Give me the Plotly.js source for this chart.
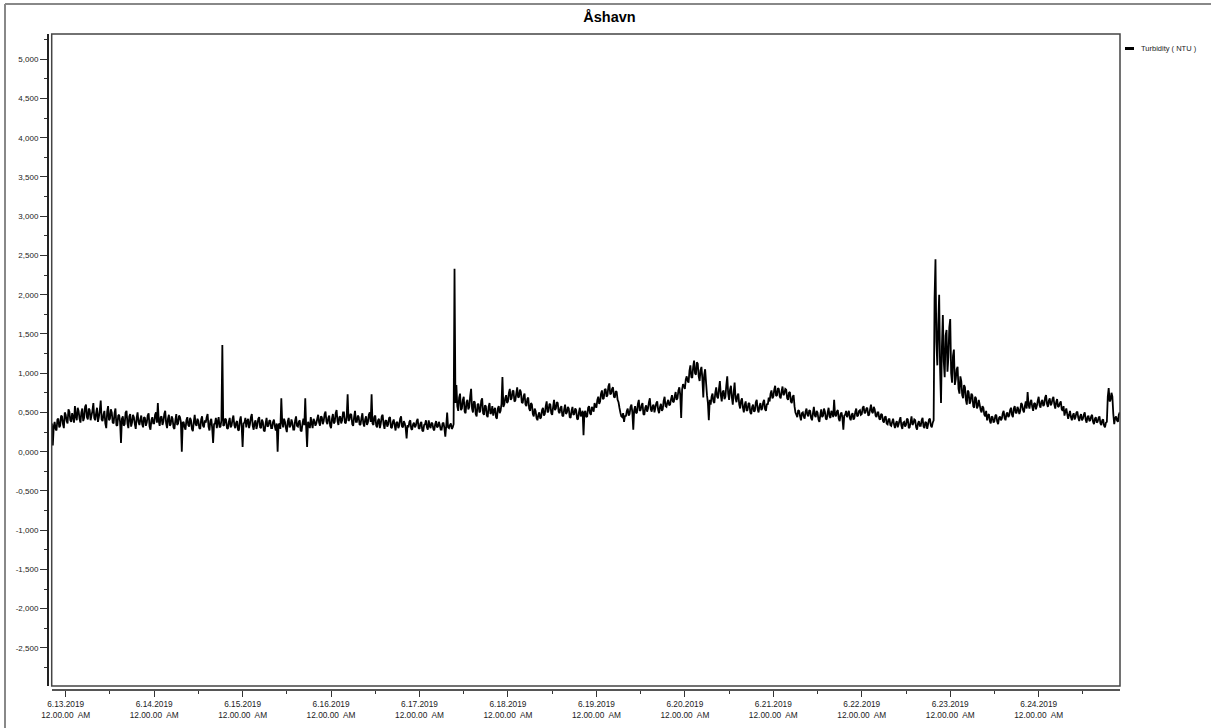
<!DOCTYPE html>
<html>
<head>
<meta charset="utf-8">
<script src="https://cdn.plot.ly/plotly-3.0.1.min.js"></script>
<style>html,body{margin:0;padding:0;background:#fff;}#chart{width:1211px;height:728px;}</style>
</head>
<body>
<div id="chart"></div>
<script>
// ---- data ----
const chartTitle = 'Åshavn';
const seriesName = 'Turbidity ( NTU )';
const seriesStart = '2019-06-12 20:00';   // first sample
const sampleStepMs = 15 * 60 * 1000;       // 15-minute samples
// turbidity values, one row = 12 hours (48 samples)
const turbidity = [
  0.30,0.36,0.08,0.32,0.38,0.29,0.27,0.41,0.42,0.31,0.33,0.46,0.45,0.35,0.30,0.50,0.47,0.39,0.36,0.54,0.51,0.40,0.38,0.49,
  0.44,0.37,0.58,0.45,0.40,0.56,0.52,0.42,0.37,0.50,0.55,0.39,0.43,0.57,0.60,0.44,0.41,0.55,0.53,0.40,0.46,0.52,0.62,0.43,
  0.40,0.49,0.56,0.38,0.44,0.53,0.65,0.41,0.39,0.47,0.52,0.36,0.30,0.51,0.58,0.40,0.42,0.54,0.50,0.37,0.36,0.49,0.55,0.34,
  0.33,0.46,0.47,0.38,0.11,0.42,0.45,0.33,0.35,0.50,0.52,0.36,0.30,0.45,0.48,0.32,0.37,0.47,0.44,0.35,0.29,0.43,0.50,0.38,
  0.34,0.41,0.46,0.35,0.31,0.44,0.43,0.33,0.37,0.46,0.49,0.32,0.28,0.40,0.44,0.36,0.36,0.47,0.50,0.37,0.62,0.39,0.33,0.44,
  0.45,0.34,0.38,0.48,0.52,0.36,0.30,0.42,0.47,0.33,0.35,0.45,0.42,0.31,0.29,0.40,0.48,0.34,0.36,0.46,0.44,0.38,0.00,0.37,
  0.38,0.31,0.28,0.40,0.44,0.34,0.32,0.43,0.40,0.29,0.26,0.38,0.47,0.35,0.33,0.42,0.39,0.30,0.29,0.41,0.45,0.33,0.31,0.40,
  0.37,0.44,0.48,0.32,0.27,0.39,0.42,0.30,0.11,0.35,0.36,0.43,0.30,0.38,0.44,0.31,0.32,0.40,1.36,0.33,0.34,0.42,0.41,0.30,
  0.29,0.38,0.43,0.31,0.33,0.41,0.46,0.34,0.30,0.37,0.39,0.28,0.27,0.40,0.45,0.32,0.06,0.36,0.37,0.43,0.31,0.39,0.42,0.30,
  0.35,0.44,0.48,0.33,0.28,0.37,0.40,0.29,0.34,0.42,0.44,0.31,0.30,0.41,0.38,0.27,0.26,0.36,0.43,0.32,0.33,0.40,0.39,0.30,
  0.30,0.38,0.41,0.32,0.27,0.36,0.00,0.34,0.36,0.29,0.68,0.37,0.31,0.42,0.38,0.30,0.25,0.39,0.43,0.31,0.33,0.41,0.37,0.28,
  0.28,0.40,0.45,0.33,0.32,0.38,0.40,0.27,0.26,0.36,0.42,0.34,0.68,0.31,0.06,0.38,0.35,0.30,0.44,0.36,0.30,0.42,0.39,0.33,
  0.36,0.42,0.47,0.37,0.33,0.45,0.44,0.35,0.39,0.48,0.51,0.38,0.35,0.43,0.46,0.33,0.30,0.42,0.48,0.36,0.38,0.49,0.53,0.39,
  0.34,0.44,0.45,0.36,0.40,0.50,0.50,0.37,0.36,0.45,0.73,0.39,0.41,0.48,0.47,0.35,0.33,0.44,0.52,0.38,0.38,0.46,0.44,0.34,
  0.35,0.43,0.49,0.36,0.32,0.41,0.45,0.34,0.37,0.47,0.50,0.38,0.73,0.36,0.34,0.44,0.46,0.33,0.31,0.40,0.42,0.30,0.36,0.45,
  0.47,0.35,0.29,0.39,0.40,0.32,0.35,0.43,0.44,0.31,0.30,0.38,0.41,0.34,0.27,0.37,0.38,0.30,0.33,0.42,0.45,0.32,0.31,0.39,
  0.36,0.30,0.17,0.34,0.31,0.38,0.40,0.29,0.28,0.35,0.37,0.31,0.33,0.39,0.42,0.30,0.29,0.36,0.38,0.27,0.26,0.34,0.35,0.40,
  0.31,0.28,0.40,0.33,0.30,0.37,0.36,0.29,0.27,0.35,0.39,0.31,0.32,0.38,0.34,0.28,0.28,0.36,0.37,0.30,0.19,0.33,0.50,0.31,
  0.30,0.34,0.36,0.29,0.31,0.35,2.33,0.62,0.85,0.58,0.52,0.69,0.74,0.53,0.55,0.66,0.70,0.51,0.49,0.63,0.66,0.54,0.57,0.71,
  0.80,0.55,0.50,0.64,0.63,0.48,0.45,0.60,0.61,0.50,0.52,0.65,0.68,0.49,0.47,0.59,0.58,0.46,0.44,0.57,0.62,0.48,0.50,0.58,
  0.46,0.53,0.56,0.44,0.42,0.55,0.58,0.49,0.52,0.61,0.95,0.57,0.60,0.68,0.72,0.62,0.64,0.75,0.80,0.66,0.68,0.77,0.78,0.64,
  0.65,0.74,0.82,0.69,0.70,0.79,0.76,0.63,0.62,0.71,0.74,0.60,0.58,0.67,0.69,0.55,0.52,0.62,0.60,0.48,0.45,0.55,0.52,0.43,
  0.40,0.47,0.50,0.42,0.44,0.53,0.56,0.46,0.48,0.58,0.64,0.50,0.52,0.61,0.60,0.49,0.47,0.57,0.66,0.53,0.55,0.63,0.62,0.51,
  0.49,0.56,0.58,0.46,0.45,0.54,0.60,0.48,0.50,0.57,0.55,0.44,0.43,0.52,0.57,0.47,0.48,0.55,0.53,0.42,0.41,0.50,0.56,0.45,
  0.48,0.52,0.21,0.50,0.52,0.44,0.45,0.56,0.58,0.49,0.47,0.57,0.55,0.51,0.62,0.58,0.56,0.66,0.70,0.61,0.64,0.74,0.78,0.67,
  0.68,0.79,0.80,0.70,0.72,0.83,0.87,0.73,0.74,0.80,0.82,0.70,0.69,0.77,0.76,0.66,0.63,0.56,0.50,0.45,0.44,0.49,0.38,0.46,
  0.45,0.52,0.55,0.46,0.48,0.57,0.60,0.50,0.28,0.53,0.58,0.49,0.50,0.61,0.66,0.52,0.53,0.59,0.62,0.48,0.47,0.56,0.59,0.51,
  0.55,0.63,0.68,0.54,0.51,0.58,0.60,0.50,0.56,0.62,0.64,0.53,0.49,0.57,0.61,0.52,0.54,0.65,0.70,0.58,0.57,0.63,0.66,0.59,
  0.60,0.67,0.72,0.64,0.63,0.71,0.76,0.66,0.68,0.78,0.82,0.72,0.43,0.79,0.86,0.84,0.80,0.92,0.96,0.90,0.88,1.03,1.10,0.95,
  0.94,1.08,1.16,1.00,0.98,1.14,1.12,0.96,0.90,1.04,1.08,0.93,0.69,0.98,1.05,0.88,0.72,0.62,0.40,0.66,0.60,0.70,0.74,0.64,
  0.62,0.75,0.82,0.70,0.68,0.80,0.90,0.72,0.64,0.76,0.78,0.67,0.70,0.85,0.96,0.74,0.66,0.79,0.84,0.69,0.60,0.76,0.88,0.68,
  0.63,0.71,0.74,0.60,0.55,0.65,0.68,0.56,0.50,0.60,0.64,0.52,0.53,0.61,0.62,0.50,0.48,0.57,0.60,0.51,0.52,0.63,0.66,0.54,
  0.50,0.58,0.62,0.53,0.55,0.63,0.66,0.54,0.52,0.61,0.60,0.69,0.64,0.74,0.78,0.68,0.70,0.79,0.84,0.71,0.72,0.81,0.80,0.70,
  0.68,0.77,0.83,0.72,0.74,0.80,0.79,0.68,0.66,0.75,0.76,0.64,0.62,0.70,0.72,0.58,0.50,0.47,0.44,0.53,0.52,0.45,0.40,0.49,
  0.50,0.45,0.42,0.51,0.55,0.47,0.45,0.53,0.52,0.43,0.40,0.49,0.57,0.46,0.44,0.52,0.50,0.41,0.38,0.47,0.54,0.44,0.46,0.55,
  0.51,0.42,0.41,0.50,0.56,0.45,0.43,0.52,0.49,0.44,0.66,0.47,0.45,0.51,0.53,0.42,0.39,0.48,0.50,0.43,0.28,0.46,0.47,0.52,
  0.44,0.48,0.52,0.43,0.40,0.47,0.49,0.41,0.43,0.51,0.55,0.45,0.46,0.52,0.53,0.47,0.48,0.56,0.58,0.49,0.50,0.55,0.56,0.46,
  0.47,0.54,0.60,0.51,0.49,0.57,0.54,0.46,0.44,0.50,0.50,0.42,0.41,0.48,0.47,0.39,0.37,0.44,0.45,0.36,0.35,0.41,0.42,0.34,
  0.33,0.38,0.42,0.35,0.30,0.36,0.39,0.31,0.35,0.40,0.44,0.33,0.29,0.37,0.38,0.32,0.34,0.42,0.41,0.30,0.31,0.38,0.45,0.34,
  0.36,0.41,0.40,0.31,0.28,0.36,0.39,0.33,0.33,0.40,0.43,0.32,0.30,0.38,0.37,0.29,0.35,0.41,0.42,0.33,0.31,0.37,0.40,1.95,
  2.45,1.40,1.10,1.62,2.00,1.05,0.62,1.35,1.74,1.15,0.95,1.48,1.55,1.02,1.20,1.58,1.69,1.00,0.88,1.22,1.30,0.85,0.92,1.05,
  1.08,0.80,0.74,0.96,0.90,0.72,0.68,0.85,0.82,0.66,0.60,0.78,0.76,0.61,0.64,0.74,0.72,0.58,0.56,0.70,0.68,0.55,0.58,0.66,
  0.60,0.53,0.50,0.58,0.56,0.47,0.45,0.52,0.40,0.46,0.48,0.39,0.36,0.45,0.44,0.37,0.39,0.46,0.47,0.38,0.35,0.43,0.45,0.40,
  0.42,0.49,0.52,0.43,0.40,0.48,0.50,0.44,0.46,0.53,0.56,0.47,0.44,0.55,0.58,0.50,0.49,0.57,0.54,0.48,0.52,0.62,0.60,0.53,
  0.50,0.58,0.64,0.55,0.76,0.60,0.55,0.63,0.66,0.57,0.52,0.61,0.62,0.54,0.58,0.65,0.70,0.59,0.56,0.64,0.66,0.58,0.60,0.69,
  0.72,0.61,0.57,0.65,0.68,0.59,0.61,0.67,0.70,0.60,0.55,0.63,0.67,0.57,0.58,0.62,0.64,0.54,0.52,0.58,0.46,0.51,0.55,0.48,
  0.42,0.47,0.52,0.44,0.40,0.46,0.49,0.41,0.44,0.50,0.51,0.43,0.39,0.45,0.48,0.40,0.42,0.47,0.50,0.41,0.37,0.44,0.46,0.39,
  0.40,0.45,0.47,0.38,0.35,0.42,0.44,0.37,0.38,0.43,0.45,0.36,0.34,0.40,0.41,0.33,0.31,0.37,0.38,0.70,0.81,0.64,0.66,0.75,
  0.70,0.48,0.35,0.43,0.45,0.40,0.38,0.47,0.50
];

// axis ticks
const xTickDates = ['2019-06-13','2019-06-14','2019-06-15','2019-06-16','2019-06-17','2019-06-18',
                    '2019-06-19','2019-06-20','2019-06-21','2019-06-22','2019-06-23','2019-06-24'];
const xTickLabels = ['6.13.2019','6.14.2019','6.15.2019','6.16.2019','6.17.2019','6.18.2019',
                     '6.19.2019','6.20.2019','6.21.2019','6.22.2019','6.23.2019','6.24.2019']
                     .map(d => d + '<br>12.00.00\u00a0 AM');
const yTickValues = [5,4.5,4,3.5,3,2.5,2,1.5,1,0.5,0,-0.5,-1,-1.5,-2,-2.5];
const yTickLabels = ['5,000','4,500','4,000','3,500','3,000','2,500','2,000','1,500','1,000','0,500',
                     '0,000','-0,500','-1,000','-1,500','-2,000','-2,500'];
const xRange = ['2019-06-12 20:12','2019-06-24 22:04'];
const yRange = [-2.985, 5.321];

// ---- layout geometry (pixels) ----
const FW = 1211, FH = 728;
const M = {l:47, r:91, t:34, b:38};
const PW = FW - M.l - M.r, PH = FH - M.t - M.b;
const px = x => (x - M.l) / PW;
const py = y => (FH - M.b - y) / PH;
const FONT = 'Liberation Sans, Arial, sans-serif';

const trace = {
  type: 'scatter', mode: 'lines', name: seriesName,
  x0: seriesStart, dx: sampleStepMs, y: turbidity,
  line: {color: '#000', width: 1.8, simplify: false},
  showlegend: false, hoverinfo: 'x+y'
};

const layout = {
  width: FW, height: FH,
  margin: {l: M.l, r: M.r, t: M.t, b: M.b, pad: 0},
  paper_bgcolor: '#fff', plot_bgcolor: '#fff',
  showlegend: false,
  font: {family: FONT, size: 8, color: '#222'},
  title: {text: chartTitle, font: {family: FONT, size: 14.5, weight: 'bold', color: '#000'},
          xref: 'container', yref: 'container', x: 609.5/FW, y: 1 - 17/FH,
          xanchor: 'center', yanchor: 'middle'},
  xaxis: {
    type: 'date', range: xRange, domain: [px(51.7), 1],
    anchor: 'free', position: 0,
    tickmode: 'array', tickvals: xTickDates, ticktext: xTickLabels,
    ticks: 'outside', ticklen: 6, tickwidth: 1, tickcolor: '#333',
    tickfont: {family: FONT, size: 8.3, color: '#222'},
    showline: true, linecolor: '#555', linewidth: 2,
    showgrid: false, zeroline: false, fixedrange: true,
    minor: {tickmode: 'linear', tick0: '2019-06-12 12:00', dtick: 12*3600*1000,
            ticks: 'outside', ticklen: 3, tickwidth: 1, tickcolor: '#333', showgrid: false}
  },
  yaxis: {
    range: yRange, domain: [py(686), 1],
    anchor: 'free', position: 0,
    tickmode: 'array', tickvals: yTickValues, ticktext: yTickLabels,
    ticks: 'outside', ticklen: 7, tickwidth: 1, tickcolor: '#333',
    tickfont: {family: FONT, size: 8, color: '#222'},
    showline: true, linecolor: '#222', linewidth: 1.5,
    showgrid: false, zeroline: false, fixedrange: true,
    minor: {tickmode: 'linear', tick0: 0, dtick: 0.25,
            ticks: 'outside', ticklen: 3, tickwidth: 1, tickcolor: '#333', showgrid: false}
  },
  shapes: [
    // plot frame
    {type: 'rect', xref: 'x domain', yref: 'y domain', x0: 0, x1: 1, y0: 0, y1: 1,
     line: {color: '#444', width: 1.5}, fillcolor: 'rgba(0,0,0,0)', layer: 'above'},
    // outer frame (top and left)
    {type: 'line', xref: 'paper', yref: 'paper', x0: px(5), x1: px(1211), y0: py(4), y1: py(4),
     line: {color: '#888', width: 2}},
    {type: 'line', xref: 'paper', yref: 'paper', x0: px(5), x1: px(5), y0: py(4), y1: py(728),
     line: {color: '#888', width: 2}},
    // legend swatch
    {type: 'line', xref: 'paper', yref: 'paper', x0: px(1125), x1: px(1134), y0: py(48.5), y1: py(48.5),
     line: {color: '#000', width: 3}}
  ],
  annotations: [
    {xref: 'paper', yref: 'paper', x: px(1139), y: py(48.5), xanchor: 'left', yanchor: 'middle',
     text: seriesName, showarrow: false, font: {family: FONT, size: 7.5, color: '#222'}}
  ]
};

Plotly.newPlot('chart', [trace], layout, {displayModeBar: false, staticPlot: true});
</script>
</body>
</html>
